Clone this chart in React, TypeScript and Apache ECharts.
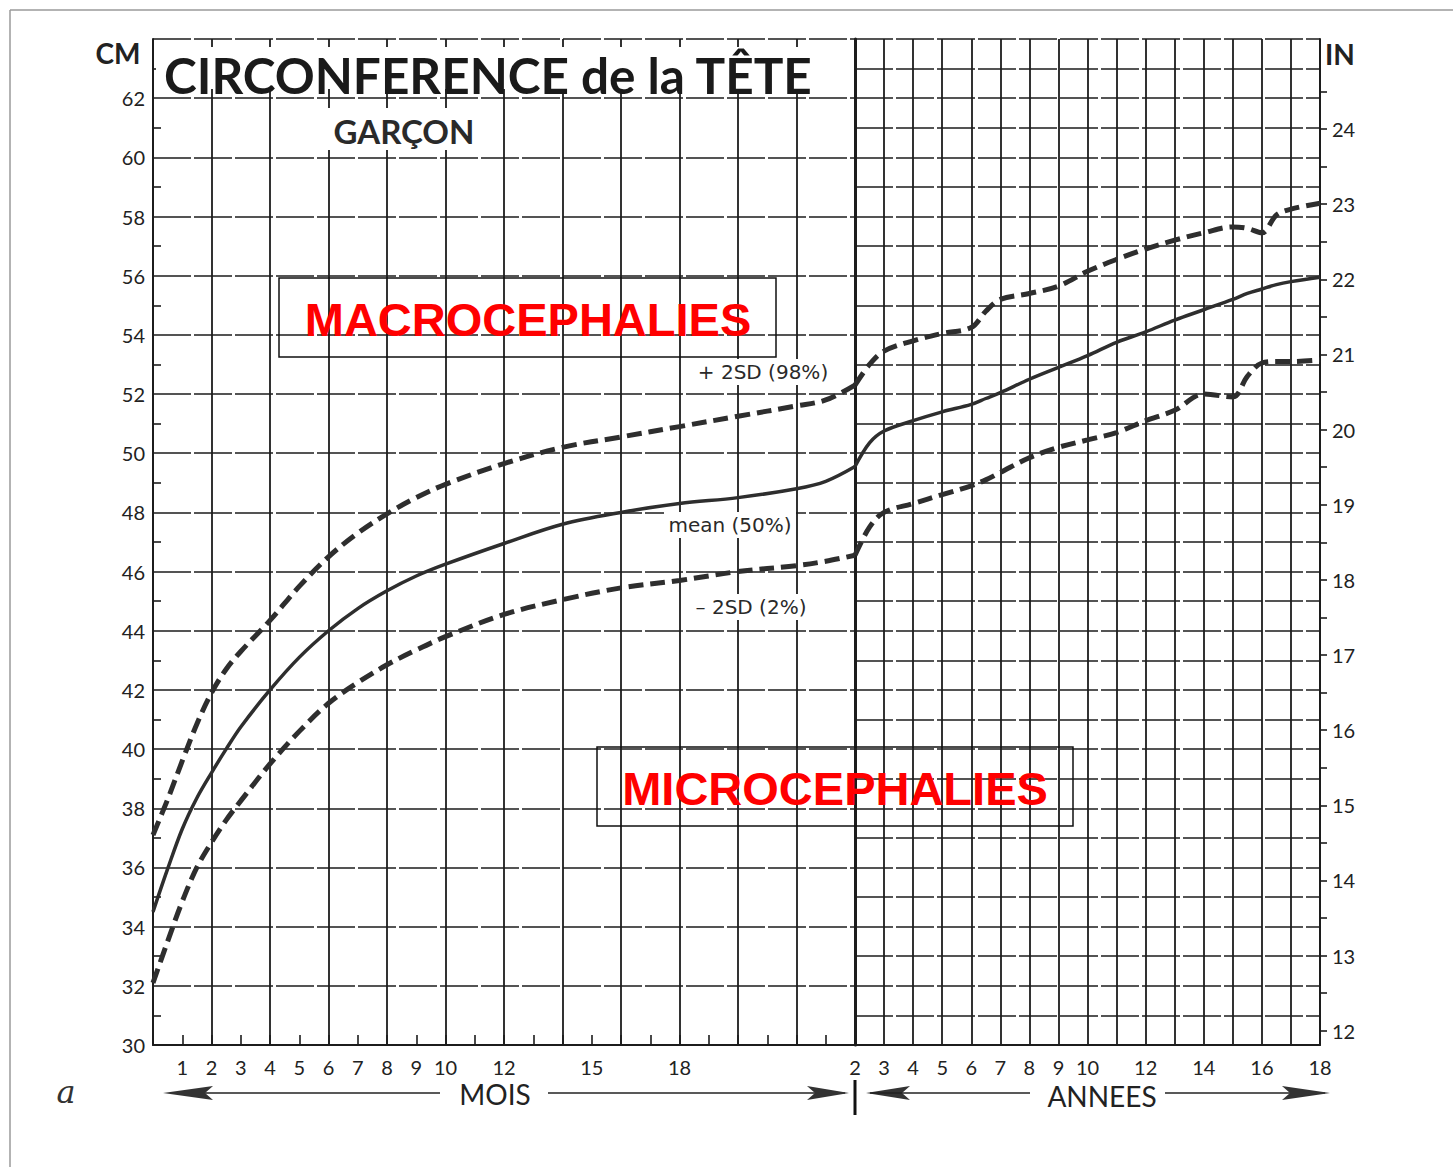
import { useEffect, useRef } from "react";
import * as echarts from "echarts";

// ---- data (head circumference, cm) ----
const monthAges = [0, 0.5, 1, 1.5, 2, 2.5, 3, 4, 5, 6, 7, 8, 9, 10, 12, 14, 16, 18, 20, 22, 23, 24];
const plus2sdMonths = [37.1, 38.3, 39.6, 40.85, 41.9, 42.7, 43.3, 44.35, 45.5, 46.5, 47.3, 47.95, 48.5, 48.95, 49.65, 50.2, 50.55, 50.9, 51.25, 51.6, 51.8, 52.3];
const meanMonths = [34.5, 35.95, 37.3, 38.35, 39.2, 40.0, 40.75, 42.0, 43.1, 44.0, 44.75, 45.35, 45.85, 46.25, 46.95, 47.6, 48.0, 48.3, 48.5, 48.8, 49.05, 49.55];
const minus2sdMonths = [32.1, 33.5, 34.85, 36.0, 36.85, 37.6, 38.25, 39.5, 40.6, 41.55, 42.25, 42.85, 43.35, 43.8, 44.55, 45.05, 45.45, 45.7, 46.0, 46.2, 46.35, 46.55];

const yearAges = [2, 2.5, 3, 4, 5, 6, 6.5, 7, 8, 9, 10, 11, 12, 13, 14, 15, 15.5, 16, 16.5, 17, 18];
const plus2sdYears = [52.3, 53.0, 53.45, 53.8, 54.05, 54.25, 54.8, 55.2, 55.4, 55.65, 56.15, 56.55, 56.9, 57.2, 57.45, 57.65, 57.6, 57.45, 58.05, 58.25, 58.45];
const meanYears = [49.55, 50.35, 50.75, 51.1, 51.4, 51.65, 51.85, 52.05, 52.5, 52.9, 53.3, 53.75, 54.1, 54.5, 54.85, 55.2, 55.4, 55.55, 55.7, 55.8, 55.95];
const minus2sdYears = [46.55, 47.5, 48.0, 48.3, 48.6, 48.9, 49.1, 49.35, 49.85, 50.2, 50.45, 50.7, 51.1, 51.45, 52.0, 51.9, 52.6, 53.05, 53.1, 53.1, 53.15];

// ---- tick labels ----
const monthLabelValues = [1, 2, 3, 4, 5, 6, 7, 8, 9, 10, 12, 15, 18];
const yearLabelValues = [2, 3, 4, 5, 6, 7, 8, 9, 10, 12, 14, 16, 18];
const inchLabelValues = [12, 13, 14, 15, 16, 17, 18, 19, 20, 21, 22, 23, 24];
const inchTickValues = [12, 12.5, 13, 13.5, 14, 14.5, 15, 15.5, 16, 16.5, 17, 17.5, 18, 18.5, 19, 19.5, 20, 20.5, 21, 21.5, 22, 22.5, 23, 23.5, 24, 24.5];

const CM_MIN = 30;
const CM_MAX = 64;
const CM_PER_INCH = 2.54;

const pairs = (xs: number[], ys: number[]) => xs.map((x, i) => [x, ys[i]]);

const INK = "#1c1c1c";
const CURVE = "#2e2e2e";
const LABEL_FONT = "Lato";

export default function App() {
  const ref = useRef<HTMLDivElement>(null);

  useEffect(() => {
    if (!ref.current) return;
    const chart = echarts.init(ref.current, undefined, { renderer: "svg" });

    const hSplit = { show: true, lineStyle: { color: INK, width: 1.6, type: [38, 3] as any } };
    const vSplit = { show: true, lineStyle: { color: INK, width: 1.8 } };
    const axisLabelBase = { fontFamily: LABEL_FONT, fontSize: 20, color: "#222" };

    const dashed = (name: string, data: number[][], xi: number, yi: number) => ({
      type: "line",
      name,
      data,
      xAxisIndex: xi,
      yAxisIndex: yi,
      showSymbol: false,
      smooth: 0.35,
      z: 5,
      lineStyle: { color: CURVE, width: 5, type: [15, 7] as any },
    });
    const solid = (name: string, data: number[][], xi: number, yi: number) => ({
      type: "line",
      name,
      data,
      xAxisIndex: xi,
      yAxisIndex: yi,
      showSymbol: false,
      smooth: 0.35,
      z: 5,
      lineStyle: { color: CURVE, width: 3.5 },
    });

    const arrowHeadLeft = (tipX: number, y: number, len: number) => [
      [tipX, y],
      [tipX + len, y - 7],
      [tipX + len - 8, y],
      [tipX + len, y + 7],
    ];
    const arrowHeadRight = (tipX: number, y: number, len: number) => [
      [tipX, y],
      [tipX - len, y - 7],
      [tipX - len + 8, y],
      [tipX - len, y + 7],
    ];

    const curveLabelFont = "20px 'DejaVu Sans', sans-serif";

    const option: any = {
      animation: false,
      backgroundColor: "#ffffff",
      grid: [
        { left: 153, top: 39, width: 702, height: 1006 },
        { left: 855, top: 39, width: 465, height: 1006 },
      ],
      xAxis: [
        {
          gridIndex: 0, type: "value", min: 0, max: 24, interval: 2,
          axisLine: { show: true, onZero: false, lineStyle: { color: INK, width: 2 } },
          axisTick: { show: false }, axisLabel: { show: false },
          splitLine: vSplit,
        },
        {
          gridIndex: 0, type: "value", min: 0, max: 24, interval: 1, position: "bottom",
          axisLine: { show: false, onZero: false },
          axisTick: { show: true, inside: true, length: 10, lineStyle: { color: INK, width: 1.6 } },
          axisLabel: {
            ...axisLabelBase, margin: 12,
            formatter: (v: number) => (monthLabelValues.includes(v) ? String(v) : ""),
          },
          splitLine: { show: false },
        },
        {
          gridIndex: 1, type: "value", min: 2, max: 18, interval: 1,
          axisLine: { show: true, onZero: false, lineStyle: { color: INK, width: 2 } },
          axisTick: { show: false },
          axisLabel: {
            ...axisLabelBase, margin: 12,
            formatter: (v: number) => (yearLabelValues.includes(v) ? String(v) : ""),
          },
          splitLine: vSplit,
        },
      ],
      yAxis: [
        {
          gridIndex: 0, type: "value", min: CM_MIN, max: CM_MAX, interval: 2,
          axisLine: { show: true, onZero: false, lineStyle: { color: INK, width: 2 } },
          axisTick: { show: false, inside: true },
          minorTick: { show: true, splitNumber: 2, length: 8, lineStyle: { color: INK, width: 1.6 } },
          axisLabel: {
            ...axisLabelBase, margin: 8,
            formatter: (v: number) => (v === CM_MAX ? "" : String(v)),
          },
          splitLine: hSplit,
        },
        {
          gridIndex: 1, type: "value", min: CM_MIN, max: CM_MAX, interval: 1,
          axisLine: { show: true, onZero: false, lineStyle: { color: INK, width: 3 } },
          axisTick: { show: false }, axisLabel: { show: false },
          splitLine: hSplit,
        },
        {
          gridIndex: 1, type: "value", position: "right",
          min: CM_MIN / CM_PER_INCH, max: CM_MAX / CM_PER_INCH,
          axisLine: { show: true, onZero: false, lineStyle: { color: INK, width: 2 } },
          axisTick: { show: true, inside: false, length: 7, customValues: inchTickValues, lineStyle: { color: INK, width: 1.6 } },
          axisLabel: { ...axisLabelBase, margin: 12, customValues: inchLabelValues },
          splitLine: { show: false },
        },
      ],
      series: [
        dashed("+2SD (98%)", pairs(monthAges, plus2sdMonths), 0, 0),
        solid("mean (50%)", pairs(monthAges, meanMonths), 0, 0),
        dashed("-2SD (2%)", pairs(monthAges, minus2sdMonths), 0, 0),
        dashed("+2SD (98%) années", pairs(yearAges, plus2sdYears), 2, 1),
        solid("mean (50%) années", pairs(yearAges, meanYears), 2, 1),
        dashed("-2SD (2%) années", pairs(yearAges, minus2sdYears), 2, 1),
      ],
      graphic: [
        // outer frame
        { type: "line", z: 1, shape: { x1: 10, y1: 10, x2: 1453, y2: 10 }, style: { stroke: "#9a9a9a", lineWidth: 1.5 } },
        { type: "line", z: 1, shape: { x1: 10, y1: 10, x2: 10, y2: 1167 }, style: { stroke: "#9a9a9a", lineWidth: 1.5 } },
        // title area
        { type: "rect", z: 50, shape: { x: 156, y: 47, width: 694, height: 42 }, style: { fill: "#ffffff" } },
        { type: "text", z: 51, x: 164, y: 75, style: { text: "CIRCONFERENCE de la TÊTE", font: "bold 49.5px Lato", fill: "#1a1a1a", textAlign: "left", textVerticalAlign: "middle" } },
        { type: "rect", z: 50, shape: { x: 328, y: 108, width: 152, height: 42 }, style: { fill: "#ffffff" } },
        { type: "text", z: 51, x: 404, y: 131, style: { text: "GARÇON", font: "bold 33px Lato", fill: "#2a2a2a", textAlign: "center", textVerticalAlign: "middle" } },
        // unit labels
        { type: "text", z: 51, x: 118, y: 53, style: { text: "CM", font: "bold 28px Lato", fill: "#222", textAlign: "center", textVerticalAlign: "middle" } },
        { type: "text", z: 51, x: 1340, y: 54, style: { text: "IN", font: "bold 28px Lato", fill: "#222", textAlign: "center", textVerticalAlign: "middle" } },
        // curve labels
        { type: "rect", z: 50, shape: { x: 692, y: 359, width: 142, height: 26 }, style: { fill: "#ffffff" } },
        { type: "text", z: 51, x: 763, y: 372, style: { text: "+ 2SD (98%)", font: curveLabelFont, fill: "#2a2a2a", textAlign: "center", textVerticalAlign: "middle" } },
        { type: "rect", z: 50, shape: { x: 664, y: 512, width: 132, height: 26 }, style: { fill: "#ffffff" } },
        { type: "text", z: 51, x: 730, y: 525, style: { text: "mean (50%)", font: curveLabelFont, fill: "#2a2a2a", textAlign: "center", textVerticalAlign: "middle" } },
        { type: "rect", z: 50, shape: { x: 688, y: 594, width: 126, height: 26 }, style: { fill: "#ffffff" } },
        { type: "text", z: 51, x: 751, y: 607, style: { text: "– 2SD (2%)", font: curveLabelFont, fill: "#2a2a2a", textAlign: "center", textVerticalAlign: "middle" } },
        // red annotation boxes
        { type: "rect", z: 60, shape: { x: 279, y: 278, width: 497, height: 79 }, style: { fill: "none", stroke: "#111", lineWidth: 1.5 } },
        { type: "text", z: 61, x: 528, y: 319, style: { text: "MACROCEPHALIES", font: "bold 47px 'Liberation Sans', Arial, sans-serif", fill: "#ff0000", textAlign: "center", textVerticalAlign: "middle" } },
        { type: "rect", z: 60, shape: { x: 597, y: 747, width: 476, height: 79 }, style: { fill: "none", stroke: "#111", lineWidth: 1.5 } },
        { type: "text", z: 61, x: 835, y: 788, style: { text: "MICROCEPHALIES", font: "bold 47px 'Liberation Sans', Arial, sans-serif", fill: "#ff0000", textAlign: "center", textVerticalAlign: "middle" } },
        // bottom legend: MOIS / ANNEES
        { type: "text", z: 51, x: 66, y: 1092, style: { text: "a", font: "italic 32px 'DejaVu Serif', serif", fill: "#333", textAlign: "center", textVerticalAlign: "middle" } },
        { type: "line", z: 51, shape: { x1: 170, y1: 1093, x2: 440, y2: 1093 }, style: { stroke: "#222", lineWidth: 1.5 } },
        { type: "polygon", z: 51, shape: { points: arrowHeadLeft(163, 1093, 50) }, style: { fill: "#333" } },
        { type: "text", z: 51, x: 495, y: 1094, style: { text: "MOIS", font: "28px Lato", fill: "#222", textAlign: "center", textVerticalAlign: "middle" } },
        { type: "line", z: 51, shape: { x1: 548, y1: 1093, x2: 845, y2: 1093 }, style: { stroke: "#222", lineWidth: 1.5 } },
        { type: "polygon", z: 51, shape: { points: arrowHeadRight(849, 1093, 42) }, style: { fill: "#333" } },
        { type: "line", z: 51, shape: { x1: 855, y1: 1080, x2: 855, y2: 1115 }, style: { stroke: "#111", lineWidth: 3 } },
        { type: "polygon", z: 51, shape: { points: arrowHeadLeft(866, 1093, 44) }, style: { fill: "#333" } },
        { type: "line", z: 51, shape: { x1: 870, y1: 1093, x2: 1030, y2: 1093 }, style: { stroke: "#222", lineWidth: 1.5 } },
        { type: "text", z: 51, x: 1102, y: 1096, style: { text: "ANNEES", font: "28px Lato", fill: "#222", textAlign: "center", textVerticalAlign: "middle" } },
        { type: "line", z: 51, shape: { x1: 1165, y1: 1093, x2: 1325, y2: 1093 }, style: { stroke: "#222", lineWidth: 1.5 } },
        { type: "polygon", z: 51, shape: { points: arrowHeadRight(1330, 1093, 48) }, style: { fill: "#333" } },
      ],
    };

    chart.setOption(option);
    return () => chart.dispose();
  }, []);

  return (
    <div
      ref={ref}
      style={{ position: "absolute", left: 0, top: 0, width: 1453, height: 1167, background: "#ffffff" }}
    />
  );
}
